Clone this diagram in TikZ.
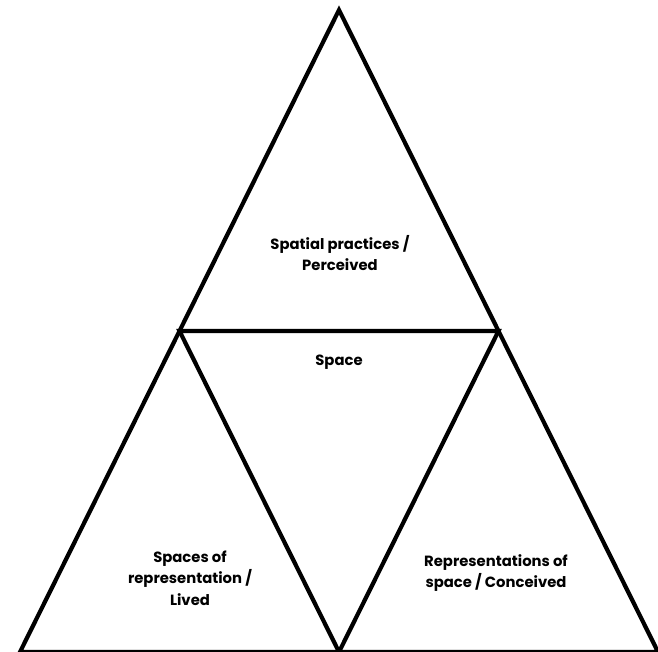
\documentclass[tikz,border=0pt]{standalone}
\usepackage{fontspec}
\setmainfont{Poppins}
\usetikzlibrary{calc,positioning}

\begin{document}
\begin{tikzpicture}[x=1pt,y=1pt,font=\fontsize{14.8}{21.5}\selectfont\bfseries,
 edge/.style={line width=4.2pt,line join=miter},
 label/.style={align=center,inner sep=0pt}]
\useasboundingbox (0,0) rectangle (658,652);
\coordinate (top) at (339,642);
\coordinate (bl) at (20,0);
\coordinate (br) at (658,0);
\coordinate (ml) at ($(top)!.5!(bl)$);
\coordinate (mr) at ($(top)!.5!(br)$);
\coordinate (mb) at ($(bl)!.5!(br)$);
\draw[edge] (top)--(bl)--(br)--cycle;
\draw[edge] (ml)--(mr)--(mb)--cycle;
\node[label] (perceived) at (340,399) {Spatial practices /\\Perceived};
\node[label] (space) at (339,290) {Space};
\node[label] (lived) at (190,74) {Spaces of\\representation /\\Lived};
\node[label] (conceived) at (496,79) {Representations of\\space / Conceived};
\end{tikzpicture}
\end{document}
